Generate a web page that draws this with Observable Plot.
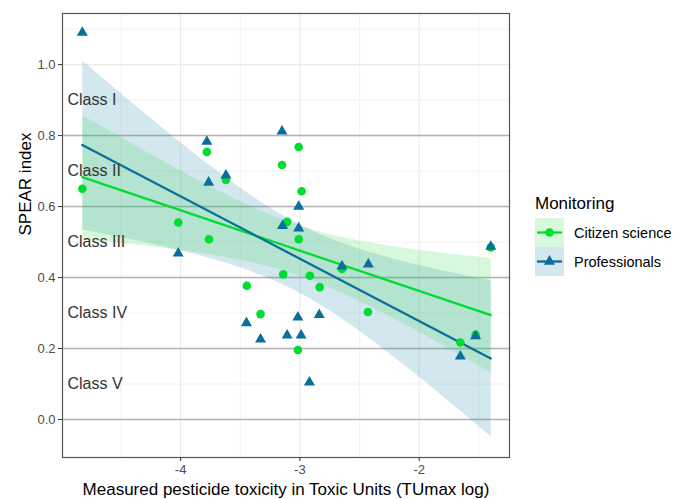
<!DOCTYPE html>
<html><head><meta charset="utf-8">
<script src="https://cdn.jsdelivr.net/npm/d3@7"></script>
<script src="https://cdn.jsdelivr.net/npm/@observablehq/plot@0.6"></script>
<style>
body{margin:0;background:#fff;font-family:"Liberation Sans",Arial,sans-serif;}
#wrap{position:relative;width:673px;height:499px;overflow:hidden;}
</style></head><body><div id="wrap"></div>
<script>
const groups = ["Citizen science", "Professionals"];
const colors = ["#00dd30", "#0b6e9b"];
const bandColors = ["#3cdc50", "#2387af"];

const toxCitizen   = [-4.824, -3.78, -3.62, -3.15, -3.01, -2.986, -3.107, -4.02, -3.762, -3.01, -3.14, -2.916, -2.834, -3.445, -3.33, -3.017, -2.647, -2.43, -1.655, -1.527, -1.40];
const spearCitizen = [0.650, 0.754, 0.675, 0.717, 0.768, 0.643, 0.557, 0.555, 0.508, 0.508, 0.409, 0.405, 0.373, 0.377, 0.297, 0.196, 0.424, 0.303, 0.217, 0.239, 0.485];

const toxProf   = [-4.824, -3.78, -3.765, -3.62, -3.15, -3.01, -3.145, -3.01, -2.647, -2.426, -1.40, -1.655, -1.527, -3.448, -3.33, -3.107, -2.99, -3.017, -2.838, -2.92, -4.02];
const spearProf = [1.090, 0.783, 0.668, 0.688, 0.812, 0.600, 0.546, 0.539, 0.432, 0.437, 0.487, 0.178, 0.235, 0.272, 0.226, 0.237, 0.237, 0.288, 0.295, 0.105, 0.468];

const xTicks = [-4, -3, -2];
const xMinor = [-4.5, -3.5, -2.5, -1.5];
const yTicks = [0, 0.2, 0.4, 0.6, 0.8, 1.0];
const yMinor = [0.1, 0.3, 0.5, 0.7, 0.9, 1.1];
const classBounds = [0, 0.2, 0.4, 0.6, 0.8];
const classLabels = ["Class I", "Class II", "Class III", "Class IV", "Class V"];
const classY = [0.9, 0.7, 0.5, 0.3, 0.1];

const xTitle = "Measured pesticide toxicity in Toxic Units (TUmax log)";
const yTitle = "SPEAR index";
const legendTitle = "Monitoring";

const cit = toxCitizen.map((x, i) => ({tox: x, spear: spearCitizen[i], group: groups[0]}));
const pro = toxProf.map((x, i) => ({tox: x, spear: spearProf[i], group: groups[1]}));
const classes = classLabels.map((t, i) => ({label: t, y: classY[i]}));

const chart = Plot.plot({
  width: 673, height: 499,
  marginLeft: 62, marginRight: 164, marginTop: 13, marginBottom: 42,
  style: {fontFamily: '"Liberation Sans", Arial, sans-serif', background: "white"},
  x: {domain: [-4.99, -1.243]},
  y: {domain: [-0.107, 1.144]},
  marks: [
    Plot.gridX(xMinor, {stroke: "#ebebeb", strokeOpacity: 1, strokeWidth: 0.6}),
    Plot.gridX(xTicks, {stroke: "#ebebeb", strokeOpacity: 1, strokeWidth: 1.2}),
    Plot.gridY(yMinor, {stroke: "#ebebeb", strokeOpacity: 1, strokeWidth: 0.6}),
    Plot.gridY(yTicks, {stroke: "#ebebeb", strokeOpacity: 1, strokeWidth: 1.2}),
    Plot.ruleY(classBounds, {stroke: "#b3b3b3", strokeWidth: 1.5}),
    Plot.linearRegressionY(pro, {x: "tox", y: "spear", ci: 0.95, stroke: "none", fill: bandColors[1], fillOpacity: 0.2}),
    Plot.linearRegressionY(cit, {x: "tox", y: "spear", ci: 0.95, stroke: "none", fill: bandColors[0], fillOpacity: 0.2}),
    Plot.linearRegressionY(cit, {x: "tox", y: "spear", ci: 0, stroke: colors[0], strokeWidth: 2.3}),
    Plot.linearRegressionY(pro, {x: "tox", y: "spear", ci: 0, stroke: colors[1], strokeWidth: 2.3}),
    Plot.dot(cit, {x: "tox", y: "spear", r: 4.3, fill: colors[0], symbol: "circle"}),
    Plot.dot(pro, {x: "tox", y: "spear", r: 4.1, fill: colors[1], symbol: "triangle"}),
    Plot.text(classes, {y: "y", text: "label", frameAnchor: "left", dx: 5, textAnchor: "start", fontSize: 16, fill: "#333"}),
    Plot.frame({stroke: "#555", strokeWidth: 1.2}),
    Plot.axisX(xTicks, {tickSize: 4, tickPadding: 3, tickFormat: d => String(d), fontSize: 13, stroke: "#333", fill: "#4d4d4d", label: null}),
    Plot.axisY(yTicks, {tickSize: 4, tickPadding: 3, tickFormat: d => d.toFixed(1), fontSize: 13, stroke: "#333", fill: "#4d4d4d", label: null}),
    Plot.text([xTitle], {frameAnchor: "bottom", dy: 32, fontSize: 17, fill: "black", lineAnchor: "middle"}),
    Plot.text([yTitle], {frameAnchor: "left", dx: -37, rotate: -90, fontSize: 17, fill: "black", lineAnchor: "middle"})
  ]
});
document.getElementById("wrap").appendChild(chart);

// Legend
const leg = d3.select("#wrap").append("svg")
  .attr("width", 140).attr("height", 100)
  .style("position", "absolute").style("left", "533px").style("top", "188px")
  .style("font-family", '"Liberation Sans", Arial, sans-serif');
leg.append("text").attr("x", 2).attr("y", 21).attr("font-size", 17).attr("fill", "black").text(legendTitle);
const syms = [d3.symbolCircle, d3.symbolTriangle];
const symSizes = [Math.PI * 4.3 * 4.3, Math.PI * 4.1 * 4.1];
groups.forEach((g, i) => {
  const y0 = 30 + i * 29;
  leg.append("rect").attr("x", 2).attr("y", y0).attr("width", 29).attr("height", 29)
    .attr("fill", bandColors[i]).attr("fill-opacity", 0.2);
  leg.append("line").attr("x1", 4).attr("x2", 29).attr("y1", y0 + 14.5).attr("y2", y0 + 14.5)
    .attr("stroke", colors[i]).attr("stroke-width", 2.3);
  leg.append("path").attr("d", d3.symbol(syms[i], symSizes[i])())
    .attr("transform", `translate(16.5,${y0 + 14.5})`).attr("fill", colors[i]);
  leg.append("text").attr("x", 41).attr("y", y0 + 14.5).attr("dy", "0.35em")
    .attr("font-size", 14.5).attr("fill", "black").text(g);
});
</script></body></html>
